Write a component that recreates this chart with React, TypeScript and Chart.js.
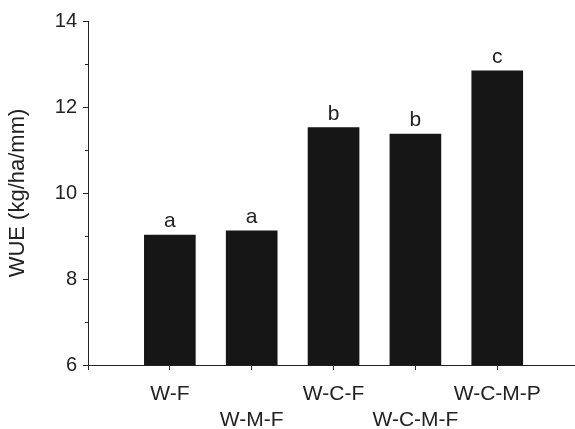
import React, { useEffect, useRef } from "react";
import { Chart, registerables } from "chart.js";

Chart.register(...registerables);

const categories = ["W-F", "W-M-F", "W-C-F", "W-C-M-F", "W-C-M-P"];
const positions = [0, 1, 2, 3, 4];
const wueValues = [9.02, 9.12, 11.52, 11.37, 12.84];
const letters = ["a", "a", "b", "b", "c"];
const yMin = 6;
const yMax = 14;
const yTitle = "WUE (kg/ha/mm)";

const FONT = '"Liberation Sans", Arial, Helvetica, sans-serif';
const INK = "#222222";

const letterPlugin = {
  id: "letterPlugin",
  afterDatasetsDraw(chart: any) {
    const meta = chart.getDatasetMeta(0);
    const ctx = chart.ctx;
    ctx.save();
    ctx.font = `21px ${FONT}`;
    ctx.fillStyle = INK;
    ctx.textAlign = "center";
    ctx.textBaseline = "alphabetic";
    meta.data.forEach((bar: any, i: number) => {
      ctx.fillText(letters[i], bar.x, bar.y - 8);
    });
    ctx.restore();
  },
};

const minorTickPlugin = {
  id: "minorTickPlugin",
  afterDraw(chart: any) {
    const y = chart.scales.y;
    const ctx = chart.ctx;
    ctx.save();
    ctx.strokeStyle = INK;
    ctx.lineWidth = 1;
    y.ticks.forEach((t: any) => {
      if (t.value % 2 !== 0) {
        const py = Math.round(y.getPixelForValue(t.value)) + 0.5;
        ctx.beginPath();
        ctx.moveTo(y.right - 3, py);
        ctx.lineTo(y.right, py);
        ctx.stroke();
      }
    });
    ctx.restore();
  },
};

export default function App() {
  const ref = useRef<HTMLCanvasElement | null>(null);
  useEffect(() => {
    if (!ref.current) return;
    const chart = new Chart(ref.current, {
      type: "bar",
      data: {
        datasets: [
          {
            data: positions.map((p, i) => ({ x: p, y: wueValues[i] })),
            backgroundColor: "#161616",
            borderWidth: 0,
            barThickness: 51,
          },
        ],
      },
      options: {
        animation: false,
        responsive: false,
        maintainAspectRatio: false,
        layout: { padding: { top: 21, right: 0, left: 0, bottom: 0 } },
        plugins: {
          legend: { display: false },
          tooltip: { enabled: false },
        },
        scales: {
          x: {
            type: "linear",
            offset: false,
            min: -1,
            max: 4.95,
            afterBuildTicks: (scale: any) => {
              scale.ticks = [-1, ...positions].map((v) => ({ value: v }));
            },
            afterFit: (scale: any) => {
              scale.height = 64;
            },
            ticks: {
              autoSkip: false,
              maxRotation: 0,
              minRotation: 0,
              padding: 11,
              color: INK,
              font: { family: FONT, size: 21, lineHeight: 1.24 },
              callback: (value: any) => {
                const idx = positions.indexOf(Number(value));
                if (idx < 0) return "";
                return idx % 2 === 1 ? ["", categories[idx]] : categories[idx];
              },
            },
            grid: {
              offset: false,
              drawOnChartArea: false,
              drawTicks: true,
              tickLength: 5,
              color: INK,
            },
            border: { display: true, color: INK, width: 1 },
          },
          y: {
            min: yMin,
            max: yMax,
            afterFit: (scale: any) => {
              scale.width = 88;
            },
            ticks: {
              stepSize: 1,
              padding: 6,
              color: INK,
              font: { family: FONT, size: 20 },
              callback: (value: any) => (Number(value) % 2 === 0 ? String(value) : ""),
            },
            grid: {
              drawOnChartArea: false,
              drawTicks: true,
              tickLength: 5,
              color: (c: any) => (c.tick && c.tick.value % 2 !== 0 ? "rgba(0,0,0,0)" : INK),
            },
            border: { display: true, color: INK, width: 1 },
            title: {
              display: true,
              text: yTitle,
              color: INK,
              font: { family: FONT, size: 22 },
              padding: { top: 5, bottom: 0 },
            },
          },
        },
      },
      plugins: [letterPlugin, minorTickPlugin],
    });
    return () => chart.destroy();
  }, []);

  return (
    <div style={{ position: "fixed", left: 0, top: 0, width: 575, height: 429, background: "#fff" }}>
      <canvas ref={ref} width={575} height={429} style={{ width: 575, height: 429 }} />
    </div>
  );
}
